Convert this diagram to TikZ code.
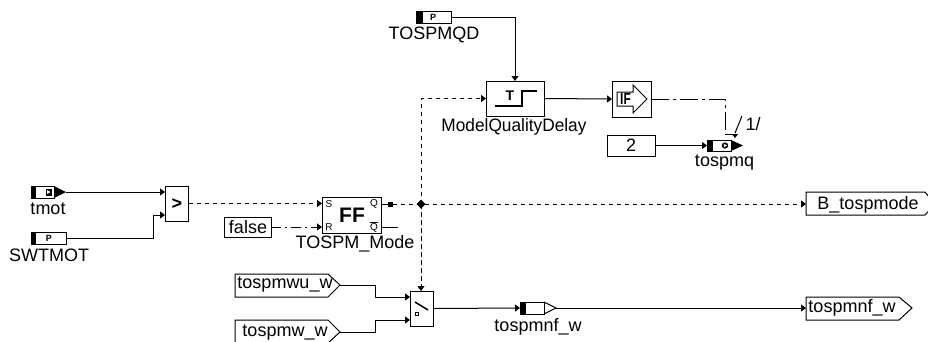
\documentclass[tikz,border=0pt]{standalone}
\usepackage{fontspec}
\setmainfont{Liberation Sans}
\usetikzlibrary{arrows.meta,positioning,calc}

\begin{document}
\begin{tikzpicture}[
    x=1pt, y=-1pt,
    every node/.style={font=\fontsize{18}{20}\selectfont, inner sep=0pt, outer sep=0pt},
    block/.style={rectangle, draw, line width=1pt, minimum width=#1, anchor=north west},
    block/.default=36pt,
    portbox/.style={rectangle, draw, line width=1pt, minimum height=12pt, anchor=west},
    signal/.style={anchor=center},
    arrow/.style={-{Triangle[length=5pt,width=7pt]}, line width=1pt},
    dashsig/.style={arrow, dash pattern=on 4.5pt off 3.5pt},
    dotsig/.style={arrow, dash pattern=on 10pt off 4pt on 2pt off 4pt},
    plain/.style={line width=1pt},
    pinlabel/.style={font=\fontsize{10}{11}\selectfont},
    tagp/.style={font=\fontsize{9}{10}\selectfont\bfseries},
  ]
    \useasboundingbox (0,0) rectangle (928,341);

    % inputs
    \node[signal] (tmotlabel) at (48,209) {tmot};
    \node[signal] (swtmotlabel) at (49,255) {SWTMOT};
    \node[signal] (qdlabel) at (434,35) {TOSPMQD};

    \node[portbox, minimum width=23pt] (tmotbody) at (31,192) {};
    \coordinate (tmot) at (66,192);
    \fill (31,186) rectangle (36,198);
    \fill (tmotbody.north east) -- (tmot) -- (tmotbody.south east) -- cycle;
    \fill (46,188.5) rectangle (52,195.5);
    \fill[white] (47,190) -- (50.5,192) -- (47,194) -- cycle;

    \node[portbox, minimum width=35pt] (swtmot) at (31,238) {};
    \fill (31,232) rectangle (36,244);
    \node[tagp] (swp) at (49,238.5) {P};

    \node[portbox, minimum width=35pt] (qd) at (416,17) {};
    \fill (416,11) rectangle (423,23);
    \node[tagp] (qdp) at (433,17.5) {P};

    % blocks
    \node[block=23.5pt, minimum height=35pt] (gt) at (165,186) {};
    \node[font=\fontsize{18}{20}\selectfont\bfseries] (gtsym) at (177,204) {>};
    \node[block=59pt, minimum height=36pt] (ff) at (322,197) {};
    \node[font=\fontsize{21}{22}\selectfont\bfseries] (ffsym) at (352,215) {FF};
    \node[pinlabel] (ffs) at (329,204) {S};
    \node[pinlabel] (ffr) at (329,227) {R};
    \node[pinlabel] (ffq) at (374,204) {Q};
    \node[pinlabel] (ffqb) at (374,227) {$\overline{\mathrm{Q}}$};
    \node[signal] (fflabel) at (355,244) {TOSPM\_Mode};
    \node[block=47pt, minimum height=20pt] (false) at (224,217) {};
    \node[signal] (falsetext) at (248,227) {false};

    \node[block=58pt, minimum height=35pt] (delay) at (486,81) {};
    \draw[line width=1.5pt] (495,106) -- (522,106) -- (522,91) -- (537,91);
    \node[font=\fontsize{14}{15}\selectfont\bfseries] (delayt) at (510,96) {T};
    \node[signal, xscale=0.96] (delaylabel) at (514,127) {ModelQualityDelay};

    \node[block=39pt, minimum height=36pt] (if) at (612,81) {};
    \draw[plain] (617,92) -- (633,92) -- (633,85) -- (647,99) -- (633,113) -- (633,106) -- (617,106) -- cycle;
    \node[font=\fontsize{16}{17}\selectfont\bfseries, xscale=0.75] (iftext) at (625.5,99) {IF};

    \node[block=48pt, minimum height=21pt] (two) at (607,135) {};
    \node[signal] (twotext) at (631,145.5) {2};

    % tospmq message
    \node[portbox, minimum width=24pt, minimum height=11pt] (tqbody) at (707,145.5) {};
    \coordinate (tq) at (743,145.5);
    \fill (707,140) rectangle (713,151);
    \fill (tqbody.north east) -- (tq) -- (tqbody.south east) -- cycle;
    \fill (725,145.5) circle (3.2pt);
    \fill[white] (723.8,143.8) -- (727,145.5) -- (723.8,147.2) -- cycle;
    \node[signal] (tqlabel) at (724.5,163) {tospmq};
    \coordinate (tqtop) at (735,138);
    \coordinate (ifdrop) at (725,134);
    \draw[plain] (735,133) -- (742,116);
    \node[signal] (slash) at (753,124) {1/};

    % switch
    \node[block=23pt, minimum height=35pt] (sw) at (410,291) {};
    \draw[line width=1.5pt] (415,302) -- (428,310);
    \draw[plain] (415.5,312) rectangle (418,315);

    % interface boxes
    \draw[plain] (235,274) -- (328,274) -- (340,285) -- (328,297) -- (235,297) -- cycle;
    \node[signal] (wu) at (285,285) {tospmwu\_w};
    \coordinate (wuout) at (340,285);
    \draw[plain] (235,320) -- (328,320) -- (340,332) -- (328,343) -- (235,343) -- cycle;
    \node[signal] (w) at (285,333) {tospmw\_w};
    \coordinate (wout) at (340,332);
    \draw[plain] (806,192) -- (925,192) -- (935,204) -- (925,215) -- (806,215) -- cycle;
    \node[signal] (bmode) at (868,205) {B\_tospmode};
    \coordinate (bmodein) at (806,204);
    \draw[plain] (806,297) -- (899,297) -- (912,308) -- (899,320) -- (806,320) -- cycle;
    \node[signal] (nfout) at (852,308) {tospmnf\_w};
    \coordinate (nfoutin) at (806,308);

    % tospmnf_w message
    \node[portbox, minimum width=24pt] (nfbody) at (520,308) {};
    \fill (520,302) rectangle (526,314);
    \coordinate (nfpt) at (556,308);
    \draw[plain] (nfbody.north east) -- (nfpt) -- (nfbody.south east);
    \node[signal] (nflabel) at (538,327) {tospmnf\_w};

    % junction and marker
    \coordinate (jct) at (421,204);
    \fill (jct) ++(-4.5,0) -- ++(4.5,-4.5) -- ++(4.5,4.5) -- ++(-4.5,4.5) -- cycle;
    \node[fill, minimum size=5pt] (mark) at (390,204) {};

    % wires
    \draw[arrow] (tmot) -- (gt.west |- tmot);
    \draw[arrow] (swtmot.east) -- (153.5,238) -- (153.5,215) -- (gt.west |- 0,215);
    \draw[dashsig] (gt.east) -- (gt.east -| ff.west);
    \draw[dotsig] (false.east) -- (false.east -| ff.west);
    \draw[plain] (false.east -| ff.east) -- (398,227);
    \draw[plain] (ff.east |- mark) -- (mark);
    \draw[dashsig] (mark) -- (bmodein);
    \draw[dashsig] (jct) -- (jct |- sw.north);
    \draw[dashsig] (jct) -- (jct |- delay.west) -- (delay.west);
    \draw[arrow] (qd.east) -- (qd.east -| delay.north) -- (delay.north);
    \draw[arrow] (delay.east) -- (if.west);
    \draw[plain, dash pattern=on 18pt off 4pt on 3pt off 4pt] (if.east) -- (ifdrop |- if.east) -- (ifdrop);
    \draw[-{Triangle[length=4pt,width=6pt]}, line width=1pt] (ifdrop) -- (735,134) -- (tqtop);
    \draw[arrow] (two.east) -- (tqbody.west);
    \draw[arrow] (wuout) -- (375,285) -- (375,297) -- (sw.west |- 0,297);
    \draw[arrow] (wout) -- (375,332) -- (375,320) -- (sw.west |- 0,320);
    \draw[arrow] (sw.east) -- (nfbody.west);
    \draw[arrow] (nfpt) -- (nfoutin);
\end{tikzpicture}
\end{document}
